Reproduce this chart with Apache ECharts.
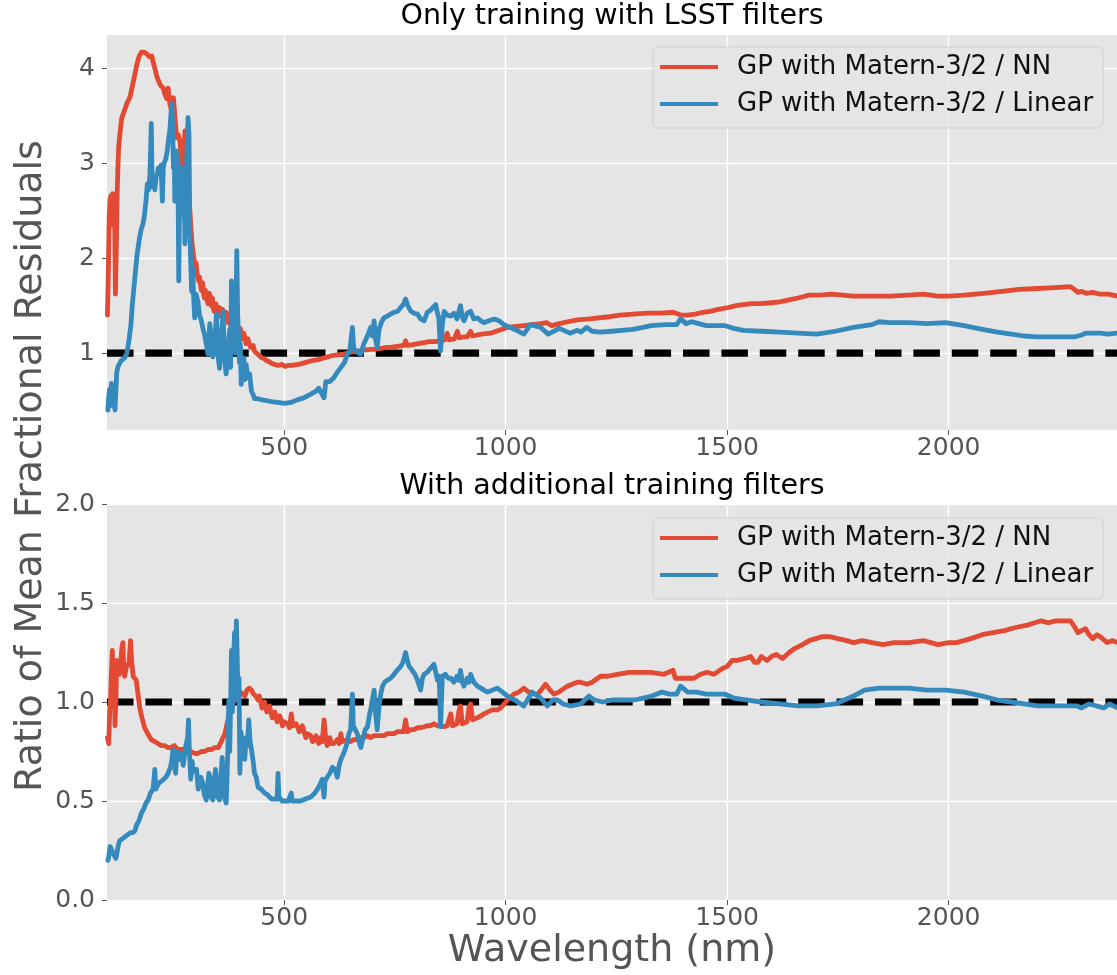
<!DOCTYPE html>
<html>
<head>
<meta charset="utf-8">
<title>Ratio of Mean Fractional Residuals</title>
<script src="https://cdn.jsdelivr.net/npm/echarts@6/dist/echarts.min.js"></script>
<style>
  html, body { margin: 0; padding: 0; background: #ffffff; }
  #chart { width: 1117px; height: 975px; }
</style>
</head>
<body>
<div id="chart"></div>
<script>
// ---- data -------------------------------------------------------------
const panelTitles = ['Only training with LSST filters', 'With additional training filters'];
const seriesNames = ['GP with Matern-3/2 / NN', 'GP with Matern-3/2 / Linear'];
const xTickValues = [500, 1000, 1500, 2000];
const topYTickValues = [1, 2, 3, 4];
const bottomYTickValues = [0, 0.5, 1.0, 1.5, 2.0];
const waveRange = [100, 2380];
const referenceLevel = 1.0;

// [wavelength (nm), ratio] -- LSST filters only, NN interpolation
const topNN = [
  [101,1.40],[103,1.85],[105,2.45],[107,2.62],[109,2.66],[111,2.35],[113,2.68],[115,2.64],[117,2.55],[119,1.62],
  [121,2.10],[123,2.70],[126,3.15],[129,3.30],[133,3.47],[139,3.55],[145,3.63],[152,3.70],[160,3.87],[167,4.03],
  [172,4.12],[178,4.17],[184,4.17],[190,4.15],[196,4.12],[201,4.13],[205,4.05],[208,4.00],[212,3.92],[216,3.87],
  [221,3.82],[227,3.79],[231,3.72],[235,3.68],[238,3.79],[242,3.62],[246,3.55],[250,3.69],[254,3.45],[257,3.27],
  [261,3.30],[265,3.22],[269,2.92],[273,3.10],[276,3.34],[280,3.00],[284,2.70],[287,2.50],[292,2.15],[296,2.00],
  [299,1.90],[301,1.95],[303,1.85],[305,1.80],[307,1.76],[309,1.80],[311,1.72],[313,1.66],[314,1.69],[316,1.74],
  [318,1.62],[320,1.58],[322,1.66],[324,1.60],[326,1.58],[328,1.52],[329,1.55],[331,1.63],[333,1.60],[335,1.50],
  [336,1.53],[338,1.58],[340,1.47],[342,1.44],[344,1.45],[346,1.52],[348,1.50],[350,1.40],[352,1.42],[354,1.48],
  [356,1.46],[358,1.38],[359,1.40],[361,1.46],[363,1.44],[365,1.36],[367,1.37],[369,1.43],[371,1.40],[373,1.32],
  [374,1.34],[376,1.38],[378,1.36],[380,1.28],[382,1.30],[384,1.34],[386,1.31],[388,1.24],[390,1.26],[392,1.30],
  [394,1.28],[396,1.20],[398,1.22],[401,1.26],[403,1.21],[405,1.15],[407,1.17],[409,1.21],[411,1.16],[414,1.10],
  [416,1.12],[418,1.15],[421,1.13],[424,1.06],[427,1.05],[430,1.08],[433,1.02],[436,1.04],[440,0.99],[444,0.97],
  [449,0.95],[455,0.94],[460,0.92],[466,0.91],[472,0.89],[479,0.88],[486,0.87],[494,0.88],[502,0.86],[509,0.87],
  [517,0.87],[532,0.88],[547,0.90],[562,0.92],[577,0.93],[590,0.95],[605,0.97],[620,0.98],[635,0.99],[650,1.01],
  [665,1.02],[680,1.03],[695,1.04],[703,1.04],[718,1.05],[732,1.06],[740,1.06],[755,1.07],[770,1.08],[774,1.13],
  [778,1.08],[790,1.09],[803,1.10],[816,1.11],[828,1.12],[840,1.12],[853,1.13],[862,1.14],[868,1.21],[872,1.14],
  [876,1.15],[884,1.15],[891,1.23],[895,1.16],[898,1.16],[906,1.17],[913,1.17],[921,1.23],[925,1.18],[928,1.18],
  [945,1.20],[966,1.21],[985,1.24],[1004,1.27],[1022,1.28],[1041,1.29],[1060,1.30],[1079,1.31],[1092,1.32],[1104,1.29],
  [1121,1.31],[1140,1.33],[1162,1.35],[1190,1.36],[1228,1.38],[1258,1.40],[1287,1.41],[1320,1.42],[1350,1.42],[1378,1.43],
  [1395,1.40],[1410,1.40],[1428,1.41],[1445,1.43],[1461,1.44],[1480,1.46],[1503,1.48],[1520,1.50],[1536,1.51],[1555,1.52],
  [1577,1.52],[1600,1.53],[1619,1.54],[1640,1.56],[1660,1.58],[1685,1.61],[1710,1.61],[1735,1.62],[1760,1.61],[1785,1.60],
  [1827,1.60],[1868,1.60],[1910,1.61],[1943,1.62],[1976,1.60],[2000,1.60],[2035,1.61],[2080,1.63],[2120,1.65],[2159,1.67],
  [2200,1.68],[2240,1.69],[2275,1.70],[2284,1.67],[2292,1.64],[2300,1.65],[2310,1.63],[2325,1.64],[2342,1.62],[2360,1.62],
  [2381,1.60]
];

// LSST filters only, linear interpolation
const topLinear = [
  [102,0.40],[104,0.55],[106,0.62],[108,0.45],[110,0.68],[112,0.70],[114,0.55],[116,0.48],[118,0.40],[120,0.60],
  [122,0.80],[125,0.86],[128,0.88],[132,0.92],[136,0.90],[140,0.95],[145,1.00],[150,1.15],[154,1.30],[157,1.50],
  [162,1.75],[168,2.04],[173,2.20],[177,2.30],[181,2.36],[184,2.43],[188,2.60],[191,2.78],[194,2.72],[197,2.88],
  [200,3.42],[202,2.75],[205,2.80],[208,2.72],[211,2.86],[214,2.90],[216,2.95],[219,2.92],[222,2.98],[225,2.60],
  [227,2.95],[229,3.00],[233,3.05],[236,3.13],[239,3.25],[242,3.35],[246,3.63],[248,3.45],[250,2.95],[252,3.10],
  [253,2.60],[255,2.85],[256,3.13],[258,2.95],[260,3.05],[262,1.76],[264,2.75],[266,2.50],[268,2.95],[270,2.70],
  [272,2.45],[274,2.80],[276,2.15],[278,2.70],[281,3.20],[283,3.48],[285,3.30],[287,2.30],[289,1.95],[291,1.65],
  [293,1.90],[296,1.55],[298,1.37],[301,1.62],[305,1.55],[309,1.40],[313,1.34],[317,1.25],[320,1.20],[324,1.10],
  [328,0.99],[332,1.31],[336,1.15],[339,0.96],[343,1.08],[347,1.41],[350,1.00],[354,0.84],[358,1.15],[362,1.44],
  [365,0.95],[369,0.78],[373,1.05],[377,1.25],[379,0.85],[381,1.76],[384,1.35],[386,1.15],[388,1.55],[390,1.00],
  [393,2.08],[395,1.40],[397,1.20],[399,0.90],[401,1.10],[403,0.67],[406,0.85],[409,0.95],[411,0.72],[414,0.88],
  [418,0.74],[422,0.78],[426,0.60],[430,0.56],[433,0.52],[440,0.52],[448,0.51],[460,0.50],[471,0.49],[485,0.48],
  [501,0.47],[515,0.48],[531,0.51],[545,0.53],[561,0.57],[572,0.60],[578,0.63],[584,0.58],[590,0.53],[594,0.70],
  [603,0.70],[612,0.74],[620,0.80],[628,0.85],[636,0.90],[643,0.99],[648,1.02],[654,1.27],[657,1.05],[661,1.06],
  [667,1.00],[673,0.99],[680,1.10],[688,1.18],[695,1.27],[699,1.18],[703,1.34],[706,1.15],[710,1.06],[714,1.25],
  [720,1.33],[725,1.37],[733,1.39],[740,1.41],[748,1.43],[756,1.44],[763,1.48],[770,1.52],[774,1.57],[779,1.50],
  [786,1.44],[793,1.42],[801,1.41],[808,1.36],[812,1.38],[816,1.34],[823,1.43],[830,1.45],[836,1.48],[842,1.51],
  [846,1.42],[849,1.37],[853,1.02],[857,1.30],[861,1.44],[868,1.40],[876,1.39],[883,1.42],[890,1.36],[898,1.50],
  [902,1.38],[906,1.34],[913,1.42],[921,1.44],[928,1.36],[936,1.37],[944,1.34],[951,1.32],[962,1.34],[974,1.36],
  [985,1.34],[996,1.30],[1010,1.27],[1025,1.24],[1041,1.20],[1056,1.30],[1079,1.27],[1096,1.20],[1121,1.26],[1145,1.21],
  [1162,1.24],[1170,1.22],[1183,1.27],[1195,1.23],[1212,1.22],[1240,1.23],[1287,1.25],[1310,1.27],[1328,1.29],[1361,1.30],
  [1386,1.30],[1395,1.36],[1407,1.31],[1420,1.33],[1436,1.31],[1453,1.29],[1494,1.29],[1515,1.26],[1536,1.24],[1577,1.23],
  [1619,1.22],[1660,1.21],[1702,1.20],[1744,1.23],[1785,1.27],[1827,1.30],[1843,1.33],[1868,1.32],[1910,1.32],[1951,1.31],
  [1993,1.32],[2035,1.29],[2076,1.25],[2110,1.22],[2142,1.20],[2170,1.18],[2201,1.17],[2240,1.17],[2284,1.17],[2300,1.19],
  [2309,1.21],[2342,1.21],[2360,1.20],[2381,1.21]
];

// with additional training filters, NN interpolation
const bottomNN = [
  [101,0.82],[104,0.79],[106,0.95],[108,1.01],[110,1.15],[112,1.26],[114,1.09],[116,1.20],[118,0.88],[120,1.00],
  [122,1.21],[125,1.18],[128,1.14],[131,1.20],[134,1.28],[136,1.30],[138,1.15],[140,1.13],[143,1.17],[147,1.16],
  [150,1.20],[153,1.31],[156,1.20],[159,1.13],[162,1.14],[166,1.11],[170,1.04],[174,0.97],[179,0.92],[185,0.87],
  [192,0.84],[200,0.81],[208,0.80],[215,0.79],[222,0.78],[230,0.78],[237,0.77],[245,0.77],[252,0.78],[260,0.76],
  [268,0.76],[275,0.76],[283,0.75],[290,0.75],[298,0.74],[305,0.74],[313,0.75],[320,0.75],[328,0.76],[336,0.76],
  [343,0.77],[351,0.77],[358,0.80],[366,0.84],[372,0.90],[377,0.95],[381,0.99],[386,1.00],[391,1.02],[396,1.04],
  [401,1.05],[406,1.04],[411,1.03],[416,1.06],[421,1.07],[426,1.06],[431,1.04],[436,1.03],[441,1.01],[444,1.03],
  [447,1.00],[450,0.97],[453,0.98],[456,1.00],[458,0.97],[461,0.95],[464,0.96],[467,0.98],[470,0.95],[473,0.92],
  [476,0.93],[479,0.95],[481,0.93],[484,0.90],[486,0.91],[490,0.93],[493,0.91],[496,0.88],[500,0.90],[504,0.91],
  [508,0.89],[512,0.87],[516,0.94],[520,0.88],[524,0.87],[527,0.89],[530,0.875],[534,0.85],[537,0.86],[541,0.88],
  [546,0.84],[549,0.82],[552,0.84],[556,0.85],[560,0.83],[564,0.80],[569,0.81],[572,0.83],[575,0.81],[578,0.79],
  [582,0.82],[586,0.80],[590,0.91],[594,0.81],[597,0.78],[600,0.80],[603,0.82],[606,0.79],[609,0.78],[612,0.79],
  [616,0.80],[620,0.81],[624,0.79],[628,0.84],[631,0.80],[635,0.80],[642,0.81],
  [650,0.80],[657,0.81],[665,0.81],[673,0.82],[680,0.82],[688,0.83],[695,0.82],[703,0.83],[710,0.83],[718,0.83],
  [725,0.83],[733,0.84],[740,0.84],[748,0.84],[756,0.85],[763,0.85],[770,0.85],[774,0.91],[778,0.85],[786,0.86],
  [793,0.86],[801,0.87],[808,0.87],[816,0.875],[823,0.88],[830,0.88],[838,0.89],[846,0.88],[853,0.88],[861,0.875],
  [868,0.88],[872,0.88],[876,0.94],[880,0.88],[883,0.88],[890,0.89],[894,0.95],[898,0.98],[902,0.89],[906,0.89],
  [913,0.90],[917,0.97],[921,0.99],[925,0.91],[928,0.90],[936,0.92],[944,0.93],[951,0.94],[960,0.95],[970,0.96],
  [981,0.96],[989,0.97],[1004,1.01],[1019,1.04],[1030,1.05],[1041,1.07],[1052,1.05],[1064,1.04],[1072,1.04],[1080,1.06],
  [1090,1.09],[1100,1.06],[1109,1.04],[1120,1.05],[1139,1.08],[1150,1.09],[1162,1.10],[1169,1.10],[1184,1.09],[1195,1.10],
  [1214,1.13],[1230,1.13],[1252,1.14],[1278,1.15],[1290,1.15],[1310,1.15],[1328,1.15],[1357,1.14],[1378,1.16],[1383,1.12],
  [1395,1.12],[1410,1.12],[1425,1.12],[1440,1.14],[1455,1.15],[1470,1.14],[1490,1.17],[1500,1.18],[1511,1.21],[1523,1.21],
  [1540,1.22],[1553,1.23],[1562,1.20],[1569,1.20],[1577,1.23],[1590,1.21],[1600,1.23],[1611,1.24],[1625,1.22],[1640,1.25],
  [1652,1.27],[1670,1.29],[1685,1.31],[1700,1.32],[1715,1.33],[1731,1.33],[1750,1.32],[1770,1.31],[1785,1.30],[1805,1.31],
  [1827,1.30],[1852,1.29],[1877,1.30],[1893,1.30],[1910,1.30],[1943,1.31],[1960,1.30],[1976,1.29],[2000,1.30],[2018,1.30],
  [2050,1.32],[2076,1.34],[2100,1.35],[2126,1.36],[2140,1.37],[2159,1.38],[2180,1.39],[2209,1.41],[2225,1.40],[2242,1.41],
  [2260,1.41],[2275,1.41],[2284,1.38],[2292,1.35],[2300,1.36],[2309,1.37],[2317,1.34],[2325,1.32],[2335,1.34],[2342,1.33],
  [2358,1.30],[2370,1.31],[2381,1.30]
];

// with additional training filters, linear interpolation
const bottomLinear = [
  [102,0.20],[104,0.22],[107,0.27],[110,0.27],[113,0.24],[117,0.25],[120,0.21],[123,0.22],[126,0.28],[129,0.30],
  [135,0.31],[141,0.32],[147,0.33],[153,0.34],[158,0.34],[163,0.35],[167,0.38],[172,0.40],[178,0.44],[183,0.46],
  [188,0.49],[193,0.505],[198,0.54],[204,0.56],[208,0.66],[210,0.56],[212,0.57],[217,0.59],[223,0.60],[228,0.61],
  [233,0.62],[238,0.64],[243,0.67],[246,0.70],[249,0.76],[252,0.69],[255,0.64],[257,0.72],[260,0.75],[264,0.71],
  [268,0.74],[272,0.68],[275,0.67],[278,0.78],[282,0.82],[284,0.91],[286,0.75],[289,0.61],[292,0.70],[295,0.65],
  [298,0.64],[302,0.66],[306,0.56],[309,0.56],[312,0.62],[315,0.60],[317,0.61],[320,0.53],[324,0.505],[327,0.58],
  [330,0.64],[332,0.62],[335,0.52],[339,0.505],[342,0.60],[345,0.66],[347,0.61],[350,0.52],[354,0.505],[357,0.62],
  [360,0.72],[362,0.65],[365,0.52],[369,0.49],[371,0.62],[373,0.78],[375,1.01],[377,0.75],[379,0.98],[381,1.26],
  [383,0.95],[385,1.18],[388,1.35],[390,1.05],[392,1.41],[394,1.22],[396,1.01],[398,1.12],[400,0.64],[402,0.85],
  [405,0.84],[408,0.76],[411,0.71],[414,0.82],[417,0.78],[420,0.91],[423,0.80],[426,0.76],[430,0.70],[433,0.64],
  [437,0.62],[441,0.57],[448,0.56],[456,0.54],[463,0.53],[471,0.51],[478,0.51],[484,0.51],[486,0.64],[488,0.52],
  [495,0.50],[501,0.50],[509,0.50],[516,0.54],[518,0.50],[525,0.50],[537,0.50],[548,0.51],[560,0.52],[569,0.54],
  [575,0.56],[580,0.58],[586,0.61],[590,0.52],[592,0.60],[597,0.62],[603,0.64],[609,0.67],[615,0.66],[620,0.62],
  [624,0.68],[628,0.71],[634,0.74],[639,0.77],[643,0.80],[646,0.84],[650,0.86],[654,1.04],[656,0.88],[658,0.875],
  [665,0.84],[669,0.80],[673,0.77],[678,0.82],[683,0.86],[688,0.875],[693,0.94],[696,0.97],[699,1.01],[703,1.06],
  [706,0.95],[710,0.86],[714,0.98],[718,1.04],[722,1.08],[727,1.10],[733,1.11],[740,1.12],[748,1.14],[755,1.16],
  [763,1.18],[768,1.20],[774,1.25],[778,1.21],[782,1.18],[789,1.16],[795,1.14],[801,1.11],[805,1.12],[808,1.06],
  [812,1.12],[816,1.14],[823,1.15],[830,1.17],[838,1.19],[842,1.15],[846,1.11],[850,1.13],[853,0.875],[855,1.00],
  [857,1.13],[864,1.14],[870,1.12],[876,1.12],[883,1.10],[890,1.13],[894,1.11],[898,1.16],[902,1.10],[906,1.08],
  [913,1.12],[917,1.10],[921,1.14],[928,1.10],[936,1.08],[944,1.07],[951,1.06],[959,1.05],[970,1.06],[981,1.07],
  [993,1.05],[1004,1.03],[1020,1.01],[1041,0.98],[1060,1.05],[1079,1.02],[1094,0.98],[1106,1.01],[1117,1.01],[1130,0.99],
  [1147,0.98],[1169,0.99],[1188,1.03],[1200,1.01],[1220,1.00],[1240,1.01],[1262,1.01],[1290,1.01],[1311,1.02],[1330,1.03],
  [1353,1.05],[1370,1.04],[1386,1.04],[1395,1.08],[1411,1.05],[1430,1.05],[1453,1.04],[1470,1.04],[1494,1.04],[1515,1.02],
  [1546,1.01],[1577,1.00],[1619,0.99],[1660,0.98],[1702,0.98],[1744,0.99],[1785,1.03],[1810,1.06],[1843,1.07],[1877,1.07],
  [1910,1.07],[1951,1.06],[1993,1.06],[2035,1.05],[2076,1.03],[2110,1.01],[2142,1.00],[2170,0.99],[2201,0.98],[2240,0.98],
  [2275,0.98],[2290,0.98],[2300,0.97],[2317,0.99],[2335,0.98],[2350,0.97],[2363,0.99],[2381,0.97]
];

// ---- style ------------------------------------------------------------
const FONT = '"DejaVu Sans", Verdana, sans-serif';
const TICK_COLOR = '#555555';
const RED = '#E24A33';
const BLUE = '#348ABD';
const PANEL_BG = '#E5E5E5';

const chart = echarts.init(document.getElementById('chart'), null, { renderer: 'canvas' });

function xAxisFor(gridIndex) {
  return {
    type: 'value',
    gridIndex: gridIndex,
    min: waveRange[0],
    max: waveRange[1],
    axisLine: { show: false },
    axisTick: { show: true, length: 5, customValues: xTickValues, lineStyle: { color: TICK_COLOR, width: 1 } },
    axisLabel: {
      customValues: xTickValues, color: TICK_COLOR, fontSize: 25, lineHeight: 25,
      fontFamily: FONT, margin: 6,
      formatter: function (v) { return String(v); }
    },
    splitLine: { show: true, lineStyle: { color: '#FFFFFF', width: 1.4 } }
  };
}

function yAxisFor(gridIndex, min, max, ticks, formatter) {
  return {
    type: 'value',
    gridIndex: gridIndex,
    min: min,
    max: max,
    axisLine: { show: false },
    axisTick: { show: true, length: 5, customValues: ticks, lineStyle: { color: TICK_COLOR, width: 1 } },
    axisLabel: {
      customValues: ticks, color: TICK_COLOR, fontSize: 25, fontFamily: FONT, margin: 12,
      formatter: formatter
    },
    splitLine: { show: true, lineStyle: { color: '#FFFFFF', width: 1.4 } }
  };
}

function curve(name, data, axisIndex, color) {
  return {
    type: 'line',
    name: name,
    data: data,
    xAxisIndex: axisIndex,
    yAxisIndex: axisIndex,
    showSymbol: false,
    symbol: 'none',
    z: color === BLUE ? 4 : 3,
    itemStyle: { color: color },
    lineStyle: { color: color, width: 4.8, join: 'round', cap: 'round' },
    emphasis: { disabled: true }
  };
}

function referenceLine(axisIndex) {
  return {
    type: 'line',
    name: 'reference',
    data: [[waveRange[0], referenceLevel], [waveRange[1], referenceLevel]],
    xAxisIndex: axisIndex,
    yAxisIndex: axisIndex,
    showSymbol: false,
    symbol: 'none',
    z: 2,
    lineStyle: { color: '#000000', width: 7.2, type: [26.5, 11.9], cap: 'butt' },
    emphasis: { disabled: true }
  };
}

function legendAt(top) {
  return {
    orient: 'vertical',
    left: 653,
    top: top,
    data: seriesNames,
    icon: 'rect',
    itemWidth: 58,
    itemHeight: 4,
    itemGap: 9,
    padding: [6, 10, 10, 7],
    selectedMode: false,
    backgroundColor: 'rgba(229,229,229,0.8)',
    borderColor: 'rgba(204,204,204,0.8)',
    borderWidth: 1,
    borderRadius: 5,
    textStyle: { color: '#111111', fontSize: 26, lineHeight: 28, fontFamily: FONT, padding: [0, 0, 0, 14] }
  };
}

const option = {
  animation: false,
  backgroundColor: '#FFFFFF',
  textStyle: { fontFamily: FONT },
  title: [
    { text: panelTitles[0], left: 612, top: 2, textAlign: 'center', padding: 0,
      textStyle: { fontSize: 28.5, lineHeight: 30, fontWeight: 'normal', color: '#000000', fontFamily: FONT } },
    { text: panelTitles[1], left: 612, top: 472, textAlign: 'center', padding: 0,
      textStyle: { fontSize: 28.5, lineHeight: 30, fontWeight: 'normal', color: '#000000', fontFamily: FONT } }
  ],
  legend: [legendAt(47), legendAt(518)],
  grid: [
    { left: 107, top: 35, width: 1010, height: 395, show: true, backgroundColor: PANEL_BG, borderWidth: 0 },
    { left: 107, top: 504, width: 1010, height: 396, show: true, backgroundColor: PANEL_BG, borderWidth: 0 }
  ],
  xAxis: [xAxisFor(0), xAxisFor(1)],
  yAxis: [
    yAxisFor(0, 0.19, 4.35, topYTickValues, function (v) { return String(v); }),
    yAxisFor(1, 0, 2.0, bottomYTickValues, function (v) { return v.toFixed(1); })
  ],
  graphic: [
    { type: 'text', x: 31, y: 466, rotation: Math.PI / 2,
      style: { text: 'Ratio of Mean Fractional Residuals', fill: TICK_COLOR,
               font: '38px "DejaVu Sans"', textAlign: 'center', textVerticalAlign: 'middle' } },
    { type: 'text', x: 612, y: 951,
      style: { text: 'Wavelength (nm)', fill: TICK_COLOR,
               font: '38px "DejaVu Sans"', textAlign: 'center', textVerticalAlign: 'middle' } }
  ],
  series: [
    referenceLine(0),
    curve(seriesNames[0], topNN, 0, RED),
    curve(seriesNames[1], topLinear, 0, BLUE),
    referenceLine(1),
    curve(seriesNames[0], bottomNN, 1, RED),
    curve(seriesNames[1], bottomLinear, 1, BLUE)
  ]
};

chart.setOption(option);
</script>
</body>
</html>
